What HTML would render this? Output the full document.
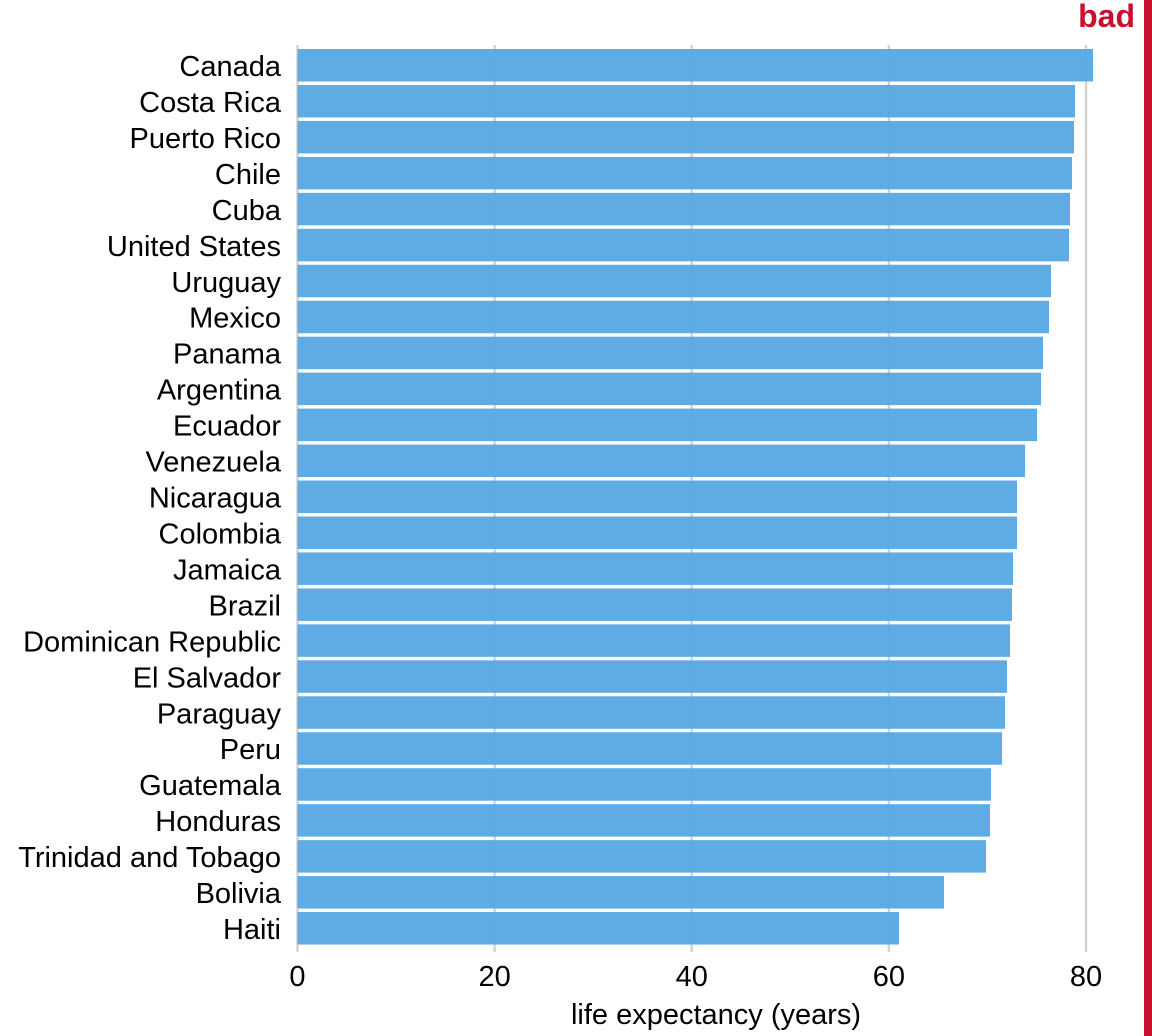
<!DOCTYPE html>
<html><head><meta charset="utf-8"><style>
html,body{margin:0;padding:0;background:#fff}
svg{display:block}
text{font-family:"Liberation Sans",sans-serif}
</style></head><body>
<svg width="1152" height="1036" viewBox="0 0 1152 1036" xmlns="http://www.w3.org/2000/svg">
<g stroke="#d3d3d3" stroke-width="2.5">
<line x1="297.5" y1="45" x2="297.5" y2="952"/>
<line x1="494.6" y1="45" x2="494.6" y2="952"/>
<line x1="691.7" y1="45" x2="691.7" y2="952"/>
<line x1="888.9" y1="45" x2="888.9" y2="952"/>
<line x1="1086" y1="45" x2="1086" y2="952"/>
</g>
<g fill="#56a8e4" fill-opacity="0.95" id="bars"></g>
<g id="labels" font-size="29" fill="#000" text-anchor="end"></g>
<g font-size="29" fill="#000" text-anchor="middle">
<text x="297.5" y="986">0</text>
<text x="494.6" y="986">20</text>
<text x="691.7" y="986">40</text>
<text x="888.9" y="986">60</text>
<text x="1086" y="986">80</text>
<text x="716" y="1024">life expectancy (years)</text>
</g>
<rect x="1144" y="0" width="8" height="1036" fill="#c8102e"/>
<text x="1135" y="27" font-size="32" font-weight="bold" fill="#c8102e" text-anchor="end">bad</text>
<script>
var d=[["Canada",1093],["Costa Rica",1075],["Puerto Rico",1074],["Chile",1072],["Cuba",1070],["United States",1069],["Uruguay",1051],["Mexico",1049],["Panama",1043],["Argentina",1041],["Ecuador",1037],["Venezuela",1025],["Nicaragua",1017],["Colombia",1017],["Jamaica",1013],["Brazil",1012],["Dominican Republic",1010],["El Salvador",1007],["Paraguay",1005],["Peru",1002],["Guatemala",991],["Honduras",990],["Trinidad and Tobago",986],["Bolivia",944],["Haiti",899]];
var ns="http://www.w3.org/2000/svg",b=document.getElementById("bars"),l=document.getElementById("labels");
d.forEach(function(r,i){var y=49+i*35.96;
var e=document.createElementNS(ns,"rect");e.setAttribute("x",297.5);e.setAttribute("y",y);e.setAttribute("width",r[1]-297.5);e.setAttribute("height",32.5);b.appendChild(e);
var t=document.createElementNS(ns,"text");t.setAttribute("x",281);t.setAttribute("y",y+27);t.textContent=r[0];l.appendChild(t);});
</script>
</svg>
</body></html>
